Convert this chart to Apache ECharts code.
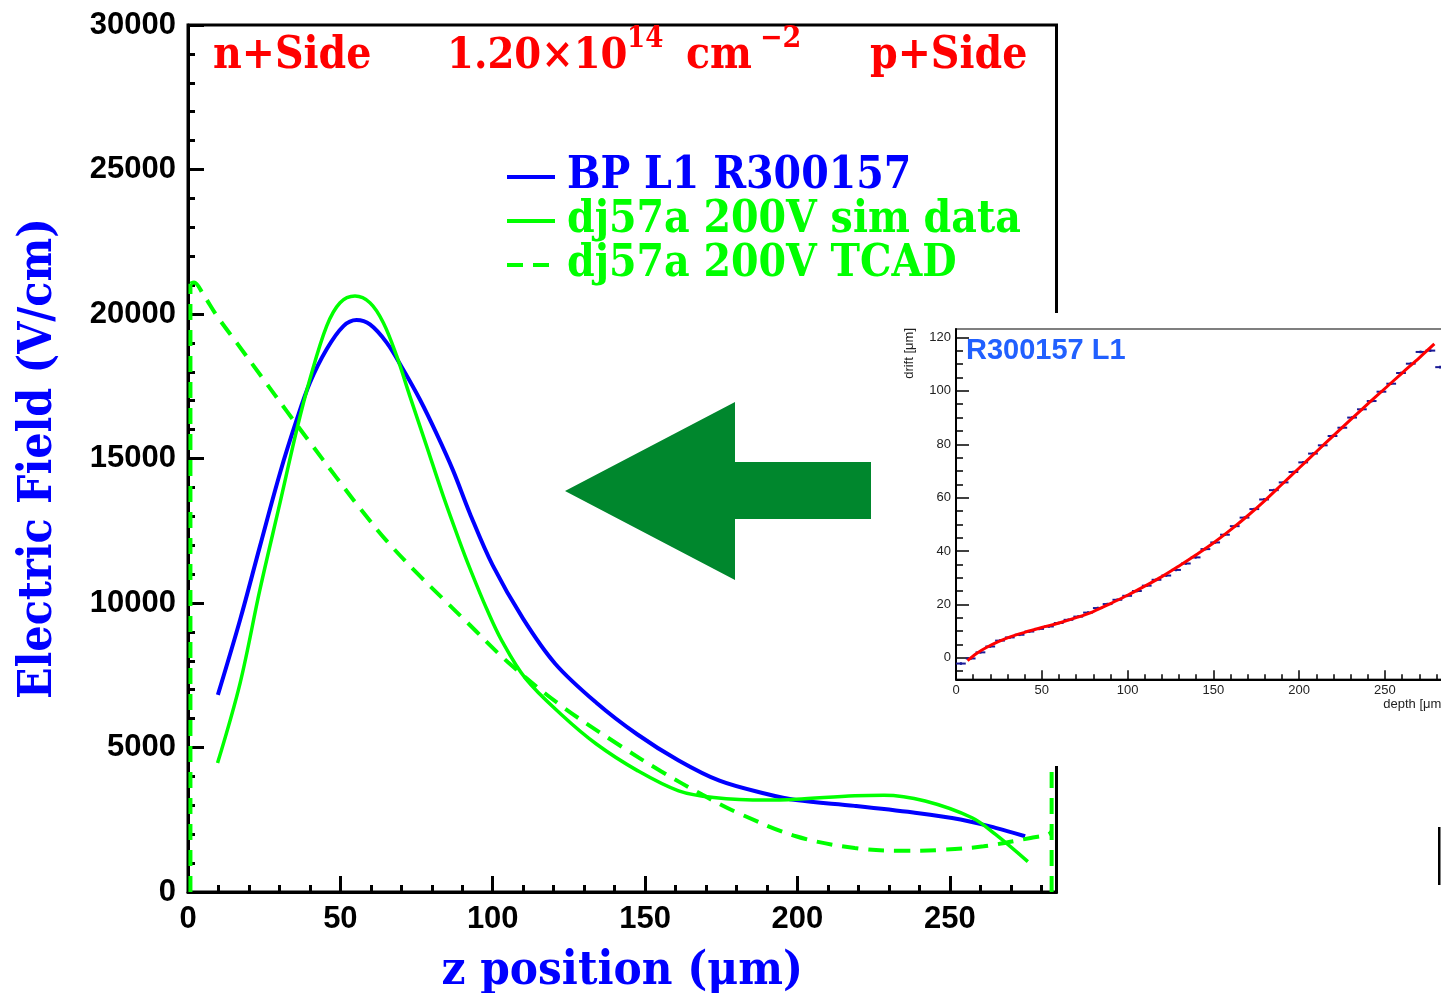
<!DOCTYPE html>
<html>
<head>
<meta charset="utf-8">
<title>Electric field profile</title>
<script src="https://cdn.jsdelivr.net/npm/echarts@6/dist/echarts.min.js"></script>
<style>
  html, body { margin: 0; padding: 0; background: #fff; }
  #chart { width: 1441px; height: 993px; }
</style>
</head>
<body>
<div id="chart"></div>
<script>
// ---- main plot: electric field vs. z position ----
const bpX = [9.8, 17.1, 23.6, 30.2, 35.7, 40.0, 45.5, 51.0, 55.3, 59.7, 65.2, 70.6, 76.1, 81.6, 87.0, 92.5, 100, 110, 120.5, 134, 147.5, 161, 174.4, 189.9, 199.5, 218.8, 238, 253.5, 265, 274.7];
const bpY = [6820, 9420, 11960, 14500, 16350, 17620, 18780, 19580, 19790, 19640, 19010, 18080, 17040, 15850, 14580, 13100, 11300, 9450, 7900, 6550, 5450, 4550, 3850, 3390, 3180, 2980, 2750, 2510, 2220, 1930];

const simX = [9.7, 17.1, 23.6, 30.2, 35.7, 40.0, 45.5, 49.9, 54.8, 59.7, 64.1, 68.5, 72.8, 78.3, 83.8, 89.2, 92.5, 98, 103, 110.8, 122.4, 134, 147.5, 161, 172.5, 189.9, 199.5, 218.8, 228.4, 241.9, 257.3, 265, 275.6];
const simY = [4460, 7230, 10460, 13470, 16000, 17740, 19580, 20390, 20620, 20390, 19700, 18540, 17160, 15430, 13690, 12110, 11200, 9800, 8690, 7380, 6150, 5120, 4200, 3500, 3270, 3180, 3210, 3330, 3350, 3150, 2570, 1990, 1050];

const tcadX = [0.8, 2, 5.0, 9.4, 16.0, 24.7, 32.4, 40.0, 48.8, 56.4, 65.2, 75.0, 84.9, 91.4, 105, 122.4, 141.7, 155.2, 168.7, 180.2, 199.5, 218.8, 234.2, 247.7, 261.1, 276.5, 282.3, 283.4];
const tcadY = [21050, 21090, 20680, 19950, 19000, 17750, 16640, 15560, 14330, 13280, 12150, 11050, 10020, 9350, 7950, 6450, 5070, 4180, 3370, 2750, 1930, 1520, 1425, 1460, 1580, 1870, 1990, 2100];
// field at the two implant boundaries
const tcadLeftEdgeX = [0.8, 0.8];
const tcadLeftEdgeY = [0, 21050];
const tcadRightEdgeX = [283.4, 283.4];
const tcadRightEdgeY = [0, 8000];

const zMajorTicks = [0, 50, 100, 150, 200, 250];
const zMinorTicks = [10, 20, 30, 40, 60, 70, 80, 90, 110, 120, 130, 140, 160, 170, 180, 190, 210, 220, 230, 240, 260, 270, 280];

// ---- inset: drift vs. depth ----
const depthBins = [2.85, 8.55, 14.25, 19.95, 25.65, 31.35, 37.05, 42.75, 48.45, 54.15, 59.85, 65.55, 71.25, 76.95, 82.65, 88.35, 94.05, 99.75, 105.45, 111.15, 116.85, 122.55, 128.25, 133.95, 139.65, 145.35, 151.05, 156.75, 162.45, 168.15, 173.85, 179.55, 185.25, 190.95, 196.65, 202.35, 208.05, 213.75, 219.45, 225.15, 230.85, 236.55, 242.25, 247.95, 253.65, 259.35, 265.05, 270.75, 276.45, 282.15];
const driftValues = [-2.2, -0.3, 2.0, 4.2, 6.4, 7.6, 8.6, 9.8, 10.8, 11.7, 13.0, 14.2, 15.4, 16.9, 18.6, 20.1, 21.7, 23.2, 25.0, 27.0, 29.2, 30.8, 32.9, 35.3, 37.6, 40.7, 43.2, 46.1, 49.3, 52.5, 55.7, 59.3, 62.8, 65.7, 69.6, 73.2, 76.5, 79.6, 83.1, 86.2, 90.0, 93.1, 96.2, 99.7, 102.7, 106.7, 110.2, 114.6, 115.1, 108.9];
const binWidth = 5.7;
const driftError = 0.5;

const fitDepth = [6.7, 12, 18, 25, 32, 40, 50, 60, 70, 80, 90, 100, 110, 120, 130, 140, 150, 160, 170, 180, 190, 200, 210, 220, 230, 240, 250, 260, 270, 278.8];
const fitDrift = [-1.1, 1.6, 3.9, 6.1, 7.9, 9.5, 11.3, 13.0, 15.0, 17.3, 20.3, 23.4, 26.8, 30.4, 34.4, 38.6, 43.0, 47.9, 53.2, 58.9, 65.0, 71.1, 77.2, 83.2, 89.2, 95.1, 100.9, 106.7, 112.4, 117.6];

const depthMajorTicks = [0, 50, 100, 150, 200, 250];
const depthMinorTicks = [10, 20, 30, 40, 60, 70, 80, 90, 110, 120, 130, 140, 160, 170, 180, 190, 210, 220, 230, 240, 260, 270, 280];
const driftMajorTicks = [0, 20, 40, 60, 80, 100, 120];
const driftMinorTicks = [-5, 5, 10, 15, 25, 30, 35, 45, 50, 55, 65, 70, 75, 85, 90, 95, 105, 110, 115];

const pairs = (xs, ys) => xs.map((x, i) => [x, ys[i]]);

const SERIF = '"DejaVu Serif Condensed", "DejaVu Serif", serif';
const SANS = '"Liberation Sans", Arial, sans-serif';
const BLUE = '#0000ff';
const GREEN = '#00ff00';
const TCAD_DASH = [16, 10];
const SMOOTH = 0.35;

const chart = echarts.init(document.getElementById('chart'), null, { renderer: 'canvas' });

const mainLabel = { fontFamily: SANS, fontWeight: 'bold', fontSize: 31, color: '#000' };
const insetLabel = { fontFamily: SANS, fontSize: 13, color: '#222' };

chart.setOption({
  animation: false,
  backgroundColor: '#fff',
  grid: [
    { left: 188, top: 25, width: 868.5, height: 867, outerBoundsMode: 'none', containLabel: false, show: true, borderColor: '#000', borderWidth: 3, backgroundColor: 'transparent', z: 0 },
    { left: 956, top: 329, width: 489, height: 350.3, outerBoundsMode: 'none', containLabel: false, show: true, borderColor: '#555', borderWidth: 1.5, z: 20 }
  ],
  legend: {
    data: [
      { name: 'BP L1 R300157', textStyle: { color: BLUE } },
      { name: 'dj57a 200V sim data', textStyle: { color: GREEN } },
      { name: 'dj57a 200V TCAD', textStyle: { color: GREEN } }
    ],
    orient: 'vertical',
    left: 500,
    top: 150,
    itemWidth: 48,
    itemHeight: 6,
    itemGap: 0,
    selectedMode: false,
    itemStyle: { opacity: 0 },
    lineStyle: { width: 4 },
    textStyle: { fontFamily: SERIF, fontWeight: 'bold', fontSize: 44, lineHeight: 43, padding: [0, 0, 0, 7] }
  },
  xAxis: [
    {
      gridIndex: 0, type: 'value', min: 0, max: 285, position: 'bottom',
      name: 'z position (μm)', nameLocation: 'middle', nameGap: 56,
      nameTextStyle: { fontFamily: SERIF, fontWeight: 'bold', fontSize: 47, color: BLUE },
      axisLine: { show: true, onZero: false, lineStyle: { color: '#000', width: 3 } },
      axisTick: { show: true, inside: true, length: 16, customValues: zMajorTicks, lineStyle: { color: '#000', width: 3 } },
      axisLabel: { show: true, margin: 12, customValues: zMajorTicks, formatter: v => String(v), ...mainLabel },
      splitLine: { show: false }
    },
    {
      gridIndex: 0, type: 'value', min: 0, max: 285, position: 'bottom',
      axisLine: { show: false, onZero: false },
      axisTick: { show: true, inside: true, length: 7, customValues: zMinorTicks, lineStyle: { color: '#000', width: 3 } },
      axisLabel: { show: false },
      splitLine: { show: false }
    },
    {
      gridIndex: 1, type: 'value', min: 0, max: 285, position: 'bottom', z: 21,
      axisLine: { show: true, onZero: false, lineStyle: { color: '#000', width: 2 } },
      axisTick: { show: true, inside: true, length: 9, customValues: depthMajorTicks, lineStyle: { color: '#000', width: 1.5 } },
      axisLabel: { show: true, margin: 5, customValues: depthMajorTicks, formatter: v => String(v), ...insetLabel },
      splitLine: { show: false }
    },
    {
      gridIndex: 1, type: 'value', min: 0, max: 285, position: 'bottom', z: 21,
      axisLine: { show: false, onZero: false },
      axisTick: { show: true, inside: true, length: 5, customValues: depthMinorTicks, lineStyle: { color: '#000', width: 1.5 } },
      axisLabel: { show: false },
      splitLine: { show: false }
    }
  ],
  yAxis: [
    {
      gridIndex: 0, type: 'value', min: 0, max: 30000, interval: 5000, position: 'left',
      name: 'Electric Field (V/cm)', nameLocation: 'middle', nameGap: 126,
      nameTextStyle: { fontFamily: SERIF, fontWeight: 'bold', fontSize: 46, color: BLUE },
      axisLine: { show: true, onZero: false, lineStyle: { color: '#000', width: 3 } },
      axisTick: { show: true, inside: true, length: 16, lineStyle: { color: '#000', width: 3 } },
      minorTick: { show: true, splitNumber: 5, length: 7, lineStyle: { color: '#000', width: 3 } },
      axisLabel: { show: true, margin: 12, formatter: v => String(v), ...mainLabel },
      splitLine: { show: false }
    },
    {
      gridIndex: 1, type: 'value', min: -8.1, max: 123.2, position: 'left', z: 21,
      axisLine: { show: true, onZero: false, lineStyle: { color: '#000', width: 2 } },
      axisTick: { show: true, inside: true, length: 13, customValues: driftMajorTicks, lineStyle: { color: '#000', width: 1.5 } },
      axisLabel: { show: true, margin: 5, customValues: driftMajorTicks, formatter: v => String(v), ...insetLabel },
      splitLine: { show: false }
    },
    {
      gridIndex: 1, type: 'value', min: -8.1, max: 123.2, position: 'left', z: 21,
      axisLine: { show: false, onZero: false },
      axisTick: { show: true, inside: true, length: 7, customValues: driftMinorTicks, lineStyle: { color: '#000', width: 1.5 } },
      axisLabel: { show: false },
      splitLine: { show: false }
    }
  ],
  series: [
    {
      name: 'BP L1 R300157', type: 'line', xAxisIndex: 0, yAxisIndex: 0,
      data: pairs(bpX, bpY), smooth: SMOOTH, symbol: 'none', z: 3,
      itemStyle: { color: BLUE }, lineStyle: { color: BLUE, width: 4 }
    },
    {
      name: 'dj57a 200V sim data', type: 'line', xAxisIndex: 0, yAxisIndex: 0,
      data: pairs(simX, simY), smooth: SMOOTH, symbol: 'none', z: 3,
      itemStyle: { color: GREEN }, lineStyle: { color: GREEN, width: 3.5 }
    },
    {
      name: 'dj57a 200V TCAD', type: 'line', xAxisIndex: 0, yAxisIndex: 0,
      data: pairs(tcadX, tcadY), smooth: SMOOTH, symbol: 'none', z: 3,
      itemStyle: { color: GREEN }, lineStyle: { color: GREEN, width: 4, type: TCAD_DASH }
    },
    {
      name: 'dj57a 200V TCAD', type: 'line', xAxisIndex: 0, yAxisIndex: 0,
      data: pairs(tcadLeftEdgeX, tcadLeftEdgeY), symbol: 'none', z: 3,
      itemStyle: { color: GREEN }, lineStyle: { color: GREEN, width: 4, type: TCAD_DASH }
    },
    {
      name: 'dj57a 200V TCAD', type: 'line', xAxisIndex: 0, yAxisIndex: 0,
      data: pairs(tcadRightEdgeX, tcadRightEdgeY), symbol: 'none', z: 3,
      itemStyle: { color: GREEN }, lineStyle: { color: GREEN, width: 4, type: TCAD_DASH }
    },
    {
      name: 'drift data', type: 'custom', xAxisIndex: 2, yAxisIndex: 1, z: 22,
      data: pairs(depthBins, driftValues),
      renderItem: (params, api) => {
        const x = api.value(0), y = api.value(1);
        const a = api.coord([x - binWidth / 2, y]);
        const b = api.coord([x + binWidth / 2, y]);
        const c = api.coord([x, y - driftError]);
        const d = api.coord([x, y + driftError]);
        const style = { stroke: '#1a1a96', lineWidth: 2 };
        return {
          type: 'group',
          children: [
            { type: 'line', shape: { x1: a[0], y1: a[1], x2: b[0], y2: b[1] }, style },
            { type: 'line', shape: { x1: c[0], y1: c[1], x2: d[0], y2: d[1] }, style }
          ]
        };
      }
    },
    {
      name: 'drift fit', type: 'line', xAxisIndex: 2, yAxisIndex: 1, z: 23,
      data: pairs(fitDepth, fitDrift), smooth: SMOOTH, symbol: 'none',
      lineStyle: { color: '#ff0000', width: 3 }
    }
  ],
  graphic: [
    // panel background for the drift inset
    { type: 'rect', z: 10, shape: { x: 885, y: 313, width: 556, height: 453 }, style: { fill: '#fff' } },
    // arrow pointing from the inset to the field plot
    { type: 'polygon', z: 5, shape: { points: [[565, 491], [735, 402], [735, 462], [871, 462], [871, 519], [735, 519], [735, 580]] }, style: { fill: '#00872d' } },
    // header line
    { type: 'text', z: 5, x: 213, y: 57, style: { text: 'n+Side', fill: '#ff0000', fontFamily: SERIF, fontWeight: 'bold', fontSize: 44, align: 'left', verticalAlign: 'middle' } },
    { type: 'text', z: 5, x: 447, y: 57, style: { text: '1.20×10', fill: '#ff0000', fontFamily: SERIF, fontWeight: 'bold', fontSize: 43, align: 'left', verticalAlign: 'middle' } },
    { type: 'text', z: 5, x: 627, y: 39, style: { text: '14', fill: '#ff0000', fontFamily: SERIF, fontWeight: 'bold', fontSize: 29, align: 'left', verticalAlign: 'middle' } },
    { type: 'text', z: 5, x: 686, y: 57, style: { text: 'cm', fill: '#ff0000', fontFamily: SERIF, fontWeight: 'bold', fontSize: 44, align: 'left', verticalAlign: 'middle' } },
    { type: 'text', z: 5, x: 760, y: 39, style: { text: '−2', fill: '#ff0000', fontFamily: SERIF, fontWeight: 'bold', fontSize: 30, align: 'left', verticalAlign: 'middle' } },
    { type: 'text', z: 5, x: 870, y: 57, style: { text: 'p+Side', fill: '#ff0000', fontFamily: SERIF, fontWeight: 'bold', fontSize: 44, align: 'left', verticalAlign: 'middle' } },
    // inset labels
    { type: 'text', z: 25, x: 966, y: 351, style: { text: 'R300157 L1', fill: '#2160ff', fontFamily: SANS, fontWeight: 'bold', fontSize: 29, align: 'left', verticalAlign: 'middle' } },
    { type: 'text', z: 25, x: 909, y: 328, rotation: Math.PI / 2, style: { text: 'drift [μm]', fill: '#222', fontFamily: SANS, fontSize: 13, align: 'right', verticalAlign: 'middle' } },
    { type: 'text', z: 25, x: 1445, y: 704, style: { text: 'depth [μm]', fill: '#222', fontFamily: SANS, fontSize: 13, align: 'right', verticalAlign: 'middle' } },
    { type: 'rect', z: 5, shape: { x: 1438, y: 827, width: 2.5, height: 58 }, style: { fill: '#000' } }
  ]
});
</script>
</body>
</html>
